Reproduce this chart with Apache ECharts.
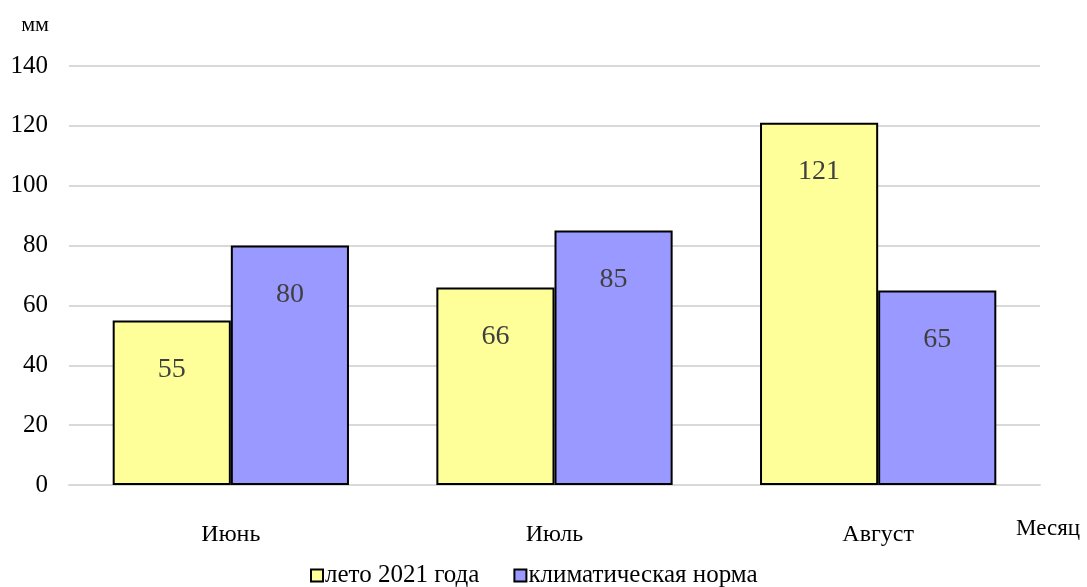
<!DOCTYPE html>
<html>
<head>
<meta charset="utf-8">
<script src="https://cdn.jsdelivr.net/npm/echarts@6/dist/echarts.min.js"></script>
<style>html,body{margin:0;padding:0;background:#fff}#c{width:1087px;height:587px}</style>
</head>
<body>
<div id="c"></div>
<script>
const categories = ['Июнь', 'Июль', 'Август'];
const seriesNames = ['лето 2021 года', 'климатическая норма'];
const summer2021 = [55, 66, 121];
const climateNorm = [80, 85, 65];
const yTicks = { min: 0, max: 140, interval: 20 };

const font = '"Liberation Serif", "Times New Roman", serif';
const chart = echarts.init(document.getElementById('c'));
const labelStyle = {
  show: true, position: 'insideTop', distance: 35,
  color: '#404040', fontFamily: font, fontSize: 28
};
chart.setOption({
  animation: false,
  textStyle: { fontFamily: font },
  grid: { left: 69, right: 47, top: 66, bottom: 102 },
  legend: {
    bottom: -6, left: 305,
    itemWidth: 12, itemHeight: 12, itemGap: 34,
    icon: 'rect',
    textStyle: { fontFamily: font, fontSize: 25, color: '#000', padding: [2, 0, 0, -3] },
    data: seriesNames
  },
  xAxis: {
    type: 'category', data: categories,
    name: 'Месяц', nameLocation: 'end', nameGap: -24,
    nameTextStyle: { fontFamily: font, fontSize: 23, color: '#000', verticalAlign: 'top', padding: [32, 0, 0, 0] },
    axisLine: { show: true, lineStyle: { color: '#d9d9d9', width: 2 } },
    axisTick: { show: false },
    axisLabel: { margin: 38, fontFamily: font, fontSize: 24, color: '#000' }
  },
  yAxis: {
    type: 'value', min: yTicks.min, max: yTicks.max, interval: yTicks.interval,
    name: 'мм', nameLocation: 'end', nameGap: 30,
    nameTextStyle: { fontFamily: font, fontSize: 22, color: '#000', align: 'right', padding: [0, 20, 0, 0] },
    axisLine: { show: false }, axisTick: { show: false },
    axisLabel: { margin: 21, fontFamily: font, fontSize: 25, color: '#000' },
    splitLine: { lineStyle: { color: '#d9d9d9', width: 2 } }
  },
  series: [
    {
      name: seriesNames[0], type: 'bar', data: summer2021,
      barGap: '0%', barCategoryGap: '27%',
      itemStyle: { color: '#FFFF99', borderColor: '#000', borderWidth: 2 },
      label: labelStyle
    },
    {
      name: seriesNames[1], type: 'bar', data: climateNorm,
      itemStyle: { color: '#9999FF', borderColor: '#000', borderWidth: 2 },
      label: labelStyle
    }
  ]
});
</script>
</body>
</html>
